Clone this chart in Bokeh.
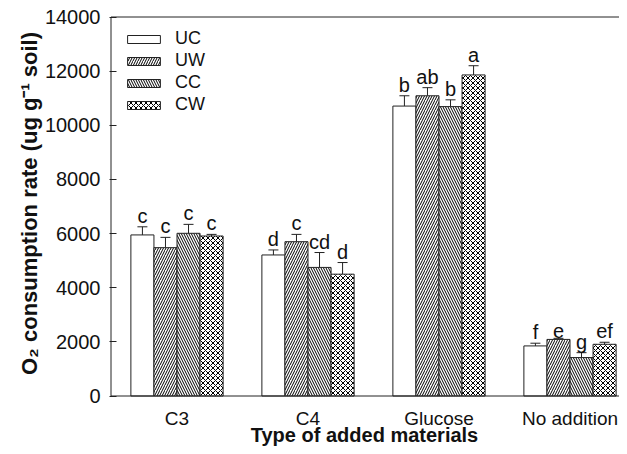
from bokeh.plotting import figure
from bokeh.models import (ColumnDataSource, Range1d, FixedTicker, Whisker, TeeHead,
                          Legend, LegendItem, Title)
from bokeh.core.properties import value
from bokeh.embed import file_html
from bokeh.resources import INLINE

# ---- data ----
categories = ["C3", "C4", "Glucose", "No addition"]
treatments = ["UC", "UW", "CC", "CW"]

uc = [5950, 5210, 10710, 1850]
uc_err = [300, 185, 380, 100]
uw = [5480, 5700, 11090, 2090]
uw_err = [380, 270, 300, 40]
cc = [6010, 4750, 10690, 1420]
cc_err = [330, 550, 250, 180]
cw = [5910, 4500, 11860, 1910]
cw_err = [60, 430, 340, 75]

uc_letters = ["c", "d", "b", "f"]
uw_letters = ["c", "c", "ab", "e"]
cc_letters = ["c", "cd", "b", "g"]
cw_letters = ["c", "d", "a", "ef"]

y_ticks = [0, 2000, 4000, 6000, 8000, 10000, 12000, 14000]
x_title = "Type of added materials"
y_title = "O\u2082 consumption rate (ug g\u207b\u00b9 soil)"

series = [
    (treatments[0], uc, uc_err, uc_letters),
    (treatments[1], uw, uw_err, uw_letters),
    (treatments[2], cc, cc_err, cc_letters),
    (treatments[3], cw, cw_err, cw_letters),
]
hatches = [None, "right_diagonal_line", "left_diagonal_line", "diagonal_cross"]

FONT = "Liberation Sans"
INK = "#111111"
LINE = "#222222"

# ---- layout geometry (pixels) ----
W, H = 619, 446
FRAME_LEFT, FRAME_TOP = 109, 15
AXIS_X_PX = 110.5          # where the y axis line sits
FIRST_GROUP_PX = 176.5     # centre of first group
GROUP_PX = 131.0           # distance between groups
Y0_PX, YTOP_PX = 395.5, 16.5
y_max = max(y_ticks)
u_per_px = y_max / (Y0_PX - YTOP_PX)
x_start = -(FIRST_GROUP_PX - FRAME_LEFT) / GROUP_PX
x_axis = -(FIRST_GROUP_PX - AXIS_X_PX) / GROUP_PX
x_end = x_start + (W - FRAME_LEFT) / GROUP_PX
y_end = y_max + (YTOP_PX - FRAME_TOP) * u_per_px
y_start = -(H - Y0_PX) * u_per_px

p = figure(width=W, height=H, output_backend="svg", toolbar_location=None,
           x_range=Range1d(x_start, x_end), y_range=Range1d(y_start, y_end),
           x_axis_location=None,
           min_border_left=FRAME_LEFT, min_border_right=0, min_border_top=FRAME_TOP,
           min_border_bottom=0)
p.grid.visible = False
p.outline_line_color = None
p.background_fill_color = "white"

w = 0.176
offsets = [-1.5 * w, -0.5 * w, 0.5 * w, 1.5 * w]

items = []
for i, (name, vals, errs, letters) in enumerate(series):
    xs = [k + offsets[i] for k in range(len(categories))]
    src = ColumnDataSource(dict(x=xs, top=vals, lower=vals,
                                upper=[v + e for v, e in zip(vals, errs)],
                                lab=letters))
    kw = {}
    if hatches[i] is not None:
        kw = dict(hatch_pattern=hatches[i], hatch_color="black",
                  hatch_scale=5, hatch_weight=1)
    r = p.vbar(x="x", top="top", width=w, bottom=0, source=src,
               fill_color="white", line_color=LINE, line_width=1, **kw)
    items.append(LegendItem(label=name, renderers=[r]))
    wh = Whisker(base="x", upper="upper", lower="lower", source=src,
                 dimension="height", line_color=LINE, line_width=1,
                 lower_head=None,
                 upper_head=TeeHead(size=10, line_color=LINE, line_width=1))
    p.add_layout(wh)
    p.text(x="x", y="upper", text="lab", source=src, text_align="center",
           text_baseline="bottom", y_offset=0,
           text_font=value(FONT), text_font_size="20px", text_color=INK)

# axis lines: left (0..max), bottom at 0, top at max
p.segment(x0=[x_axis, x_axis, x_axis], y0=[0, 0, y_max],
          x1=[x_axis, x_end, x_end], y1=[y_max, 0, y_max],
          line_color=LINE, line_width=1)

# category labels and x title below the zero line
cat_src = ColumnDataSource(dict(x=list(range(len(categories))),
                                y=[0] * len(categories), t=categories))
p.text(x="x", y="y", text="t", source=cat_src, text_align="center",
       text_baseline="middle", y_offset=22,
       text_font=value(FONT), text_font_size="19px", text_color=INK)
p.text(x=[(x_start + x_end) / 2], y=[0], text=[x_title], text_align="center",
       text_baseline="bottom", y_offset=50,
       text_font=value(FONT), text_font_style="bold", text_font_size="20px",
       text_color=INK)

legend = Legend(items=items, location=(14, 331))
legend.border_line_color = None
legend.background_fill_alpha = 0
legend.padding = 0
legend.margin = 0
legend.glyph_width = 41
legend.glyph_height = 10
legend.label_standoff = 11
legend.label_height = 21
legend.spacing = 1
legend.label_text_font = FONT
legend.label_text_font_size = "18px"
legend.label_text_color = INK
p.add_layout(legend)

# y axis
ya = p.yaxis[0]
ya.ticker = FixedTicker(ticks=y_ticks)
ya.major_tick_in = 7
ya.major_tick_out = 0
ya.minor_tick_line_color = None
ya.axis_line_color = None
ya.major_tick_line_color = LINE
ya.major_label_text_font = FONT
ya.major_label_text_font_size = "20px"
ya.major_label_text_color = INK
ya.major_label_standoff = 9

# leading no-break spaces lift the centred title toward the top of the axis
yt = Title(text="\u00a0" * 9 + y_title, align="center", standoff=0,
           text_font=FONT, text_font_style="bold", text_font_size="22px",
           text_color=INK)
p.add_layout(yt, "left")

open("out.html", "w").write(file_html(p, INLINE))
